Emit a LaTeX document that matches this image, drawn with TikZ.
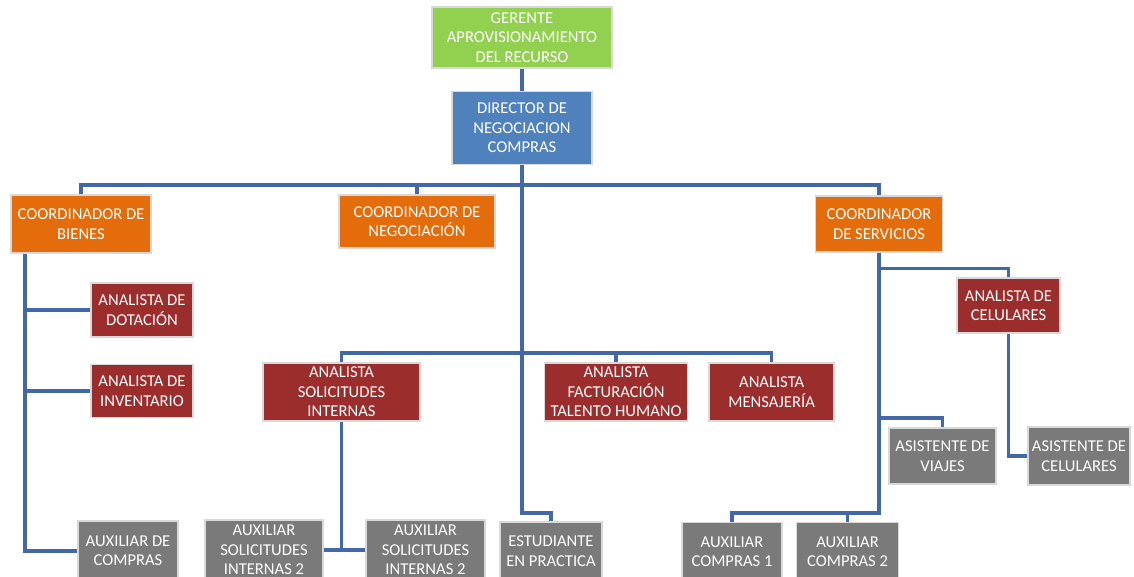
\documentclass[tikz,border=0pt]{standalone}
\usepackage{fontspec}
\setmainfont{Carlito}
\usetikzlibrary{positioning}

\definecolor{gerentegreen}{HTML}{92D050}
\definecolor{directorblue}{HTML}{4F81BD}
\definecolor{coordorange}{HTML}{E46C0A}
\definecolor{analistared}{HTML}{9B2D2D}
\definecolor{auxgray}{HTML}{7A7A7A}
\definecolor{linkblue}{HTML}{4268A8}

\begin{document}
\begin{tikzpicture}[
    x=0.025cm, y=-0.025cm,
    box/.style={
        rectangle, align=center, inner sep=1pt,
        font=\fontsize{11.8}{13.8}\selectfont,
        text=white, draw=black!15, line width=1.1pt
    },
    wh/.style 2 args={minimum width=#1*0.025cm, minimum height=#2*0.025cm},
    gerente/.style ={box, fill=gerentegreen},
    director/.style={box, fill=directorblue},
    coord/.style   ={box, fill=coordorange},
    analista/.style={box, fill=analistared},
    aux/.style     ={box, fill=auxgray},
    link/.style={
        line width=2.4pt, draw=linkblue
    },
]

\useasboundingbox (0,0) rectangle (1134,577);
\clip (0,0) rectangle (1134,577);
\fill[white] (0,0) rectangle (1134,577);

% LEVEL 1
\node[gerente, wh={180}{61}] (gerente) at (522,37.5) {GERENTE\\APROVISIONAMIENTO\\DEL RECURSO};
\node[director, wh={140}{73}, below=0.55cm of gerente] (director) {DIRECTOR DE\\NEGOCIACION\\COMPRAS};

% COORDINADORES
\node[coord, wh={140}{58}] (bienes) at (81,224) {COORDINADOR DE\\BIENES};
\node[coord, wh={156}{53}] (negociacion) at (417,221.5) {COORDINADOR DE\\NEGOCIACIÓN};
\node[coord, wh={127}{56}] (servicios) at (879,224) {COORDINADOR\\DE SERVICIOS};

% ANALISTAS
\node[analista, wh={102}{54}] (dotacion) at (142,310) {ANALISTA DE\\DOTACIÓN};
\node[analista, wh={102}{53}, below=0.65cm of dotacion] (inventario) {ANALISTA DE\\INVENTARIO};
\node[analista, wh={157}{58}] (solicitudes) at (341.5,392) {ANALISTA\\SOLICITUDES\\INTERNAS};
\node[analista, wh={143}{58}, right=3.075cm of solicitudes] (facturacion) {ANALISTA\\FACTURACIÓN\\TALENTO HUMANO};
\node[analista, wh={125}{58}, right=0.5cm of facturacion] (mensajeria) {ANALISTA\\MENSAJERÍA};
\node[analista, wh={103}{55}] (celulares) at (1008.5,305.5) {ANALISTA DE\\CELULARES};

% AUXILIARES
\node[aux, wh={100}{60}] (auxcompras) at (128,551) {AUXILIAR DE\\COMPRAS};
\node[aux, wh={118}{60}] (auxsol1) at (264,550) {AUXILIAR\\SOLICITUDES\\INTERNAS 2};
\node[aux, wh={119}{60}] (auxsol2) at (425.5,550) {AUXILIAR\\SOLICITUDES\\INTERNAS 2};
\node[aux, wh={102}{58}] (estudiante) at (551,551) {ESTUDIANTE\\EN PRACTICA};
\node[aux, wh={100}{58}] (auxc1) at (732,551.5) {AUXILIAR\\COMPRAS 1};
\node[aux, wh={102}{58}, right=0.325cm of auxc1] (auxc2) {AUXILIAR\\COMPRAS 2};
\node[aux, wh={107}{56}] (viajes) at (942.5,456) {ASISTENTE DE\\VIAJES};
\node[aux, wh={102}{58}] (asistcel) at (1079,456) {ASISTENTE DE\\CELULARES};

% Connectors
\coordinate (bus) at (522,185);
\coordinate (trunk-end) at (522,513);
\coordinate (bienes-trunk) at (25,0);
\coordinate (mid-bus) at (0,353);
\coordinate (serv-viajes) at (879,418);
\coordinate (serv-end) at (879,513);

\draw[link] (gerente) -- (director);
\draw[link] (director.south) -- (trunk-end) -| (estudiante.north);
\draw[link] (bienes.north) |- (bus) -| (servicios.north);
\draw[link] (negociacion.north) -- (negociacion.north |- bus);

\draw[link] (solicitudes.north) -- (solicitudes.north |- mid-bus) -| (mensajeria.north);
\draw[link] (facturacion.north) -- (facturacion.north |- mid-bus);

\draw[link] (bienes.south -| bienes-trunk) |- (auxcompras.west);
\draw[link] (dotacion.west) -- (dotacion.west -| bienes-trunk);
\draw[link] (inventario.west) -- (inventario.west -| bienes-trunk);

\draw[link] (solicitudes.south) -- (solicitudes.south |- auxsol1.east);
\draw[link] (auxsol1.east) -- (auxsol2.west);

\draw[link] (servicios.south) -- (serv-end) -| (auxc1.north);
\draw[link] (auxc2.north) -- (auxc2.north |- serv-end);
\draw[link] (servicios.south) -- ++(0,16) -| (celulares.north);
\draw[link] (serv-viajes) -| (viajes.north);
\draw[link] (celulares.south) |- (asistcel.west);

\end{tikzpicture}
\end{document}
